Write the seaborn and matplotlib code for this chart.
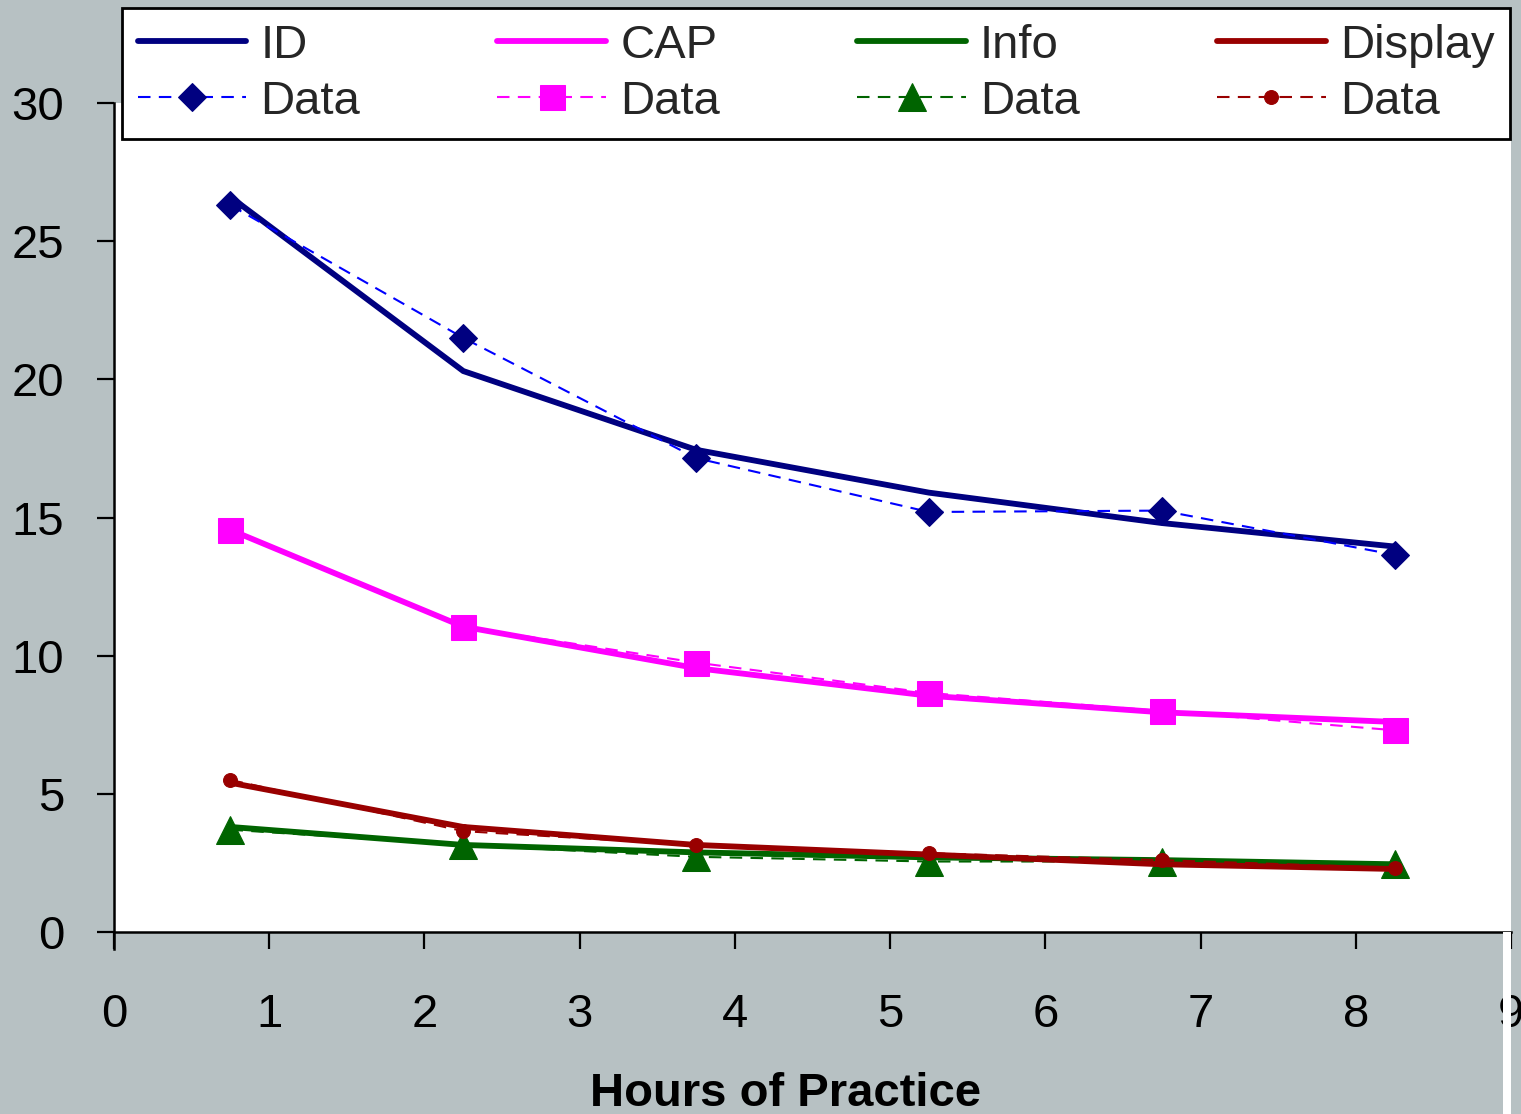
import matplotlib
matplotlib.use("Agg")
import matplotlib.pyplot as plt
from matplotlib.patches import Rectangle
import seaborn as sns
import pandas as pd

# Practice sessions (hours) at which performance was measured
hours = [0.75, 2.25, 3.75, 5.25, 6.75, 8.25]

# Measured data per component
id_data = [26.3, 21.5, 17.15, 15.2, 15.25, 13.65]
cap_data = [14.55, 11.05, 9.75, 8.65, 8.0, 7.3]
info_data = [3.7, 3.15, 2.72, 2.55, 2.55, 2.45]
display_data = [5.5, 3.65, 3.15, 2.85, 2.6, 2.32]

# Model fits per component
id_fit = [26.6, 20.3, 17.45, 15.9, 14.8, 13.95]
cap_fit = [14.55, 11.05, 9.55, 8.55, 7.95, 7.6]
info_fit = [3.8, 3.15, 2.88, 2.7, 2.6, 2.45]
display_fit = [5.4, 3.8, 3.15, 2.8, 2.45, 2.28]

series_names = ["ID", "CAP", "Info", "Display"]
fit_colors = ["#000080", "#FF00FF", "#006400", "#990000"]
data_colors = ["#0000FF", "#FF00FF", "#006400", "#990000"]
markers = ["D", "s", "^", "o"]
marker_sizes = [14, 18, 20, 10]

fits = [id_fit, cap_fit, info_fit, display_fit]
datas = [id_data, cap_data, info_data, display_data]

bg = "#B7C1C3"
sns.set_style("ticks")
plt.rcParams["font.family"] = ["Liberation Sans", "DejaVu Sans"]

fig = plt.figure(figsize=(15.21, 11.14), dpi=100, facecolor=bg)
ax = fig.add_axes([0.075, 0.1634, 0.9184, 0.7441])
ax.set_facecolor("white")

handles = []
labels = []
for name, fit, data, fc, dc, mk, ms in zip(series_names, fits, datas,
                                           fit_colors, data_colors,
                                           markers, marker_sizes):
    df = pd.DataFrame({"hours": hours, "fit": fit, "data": data})
    sns.lineplot(data=df, x="hours", y="fit", ax=ax, color=fc,
                 linewidth=4.2, solid_joinstyle="miter", label=name,
                 legend=False)
    fit_line = ax.get_lines()[-1]
    sns.lineplot(data=df, x="hours", y="data", ax=ax, color=dc,
                 linewidth=1.5, dashes=False, linestyle=(0, (6, 4)),
                 marker=mk, markersize=ms, markerfacecolor=fc,
                 markeredgecolor=fc, label="Data", legend=False)
    data_line = ax.get_lines()[-1]
    handles += [fit_line, data_line]
    labels += [name, "Data"]

ax.set_xlim(0, 9)
ax.set_ylim(0, 30)
ax.set_xticks(range(0, 10))
ax.set_yticks(range(0, 31, 5))
ax.tick_params(axis="both", direction="out", length=12, width=1.6,
               color="black", labelsize=34, labelcolor="black")
ax.tick_params(axis="x", pad=32)
ax.tick_params(axis="y", pad=24)
for side in ["top", "right"]:
    ax.spines[side].set_visible(False)
for side in ["left", "bottom"]:
    ax.spines[side].set_color("black")
    ax.spines[side].set_linewidth(1.8)
ax.spines["left"].set_bounds(-0.6, 30)
ax.spines["left"].set_position(("data", 0))

ax.set_xlabel("Hours of Practice", fontsize=34, fontweight="bold",
              color="black")
ax.set_ylabel("")
ax.xaxis.set_label_coords(0.481, -0.169)
ax.xaxis.label.set_va("top")

leg = ax.legend(handles, labels, ncol=4, loc="upper left",
                bbox_to_anchor=(0.0802, 0.0, 0.9126, 1 - 8 / 1114),
                bbox_transform=fig.transFigure, mode="expand",
                fontsize=34, frameon=True, fancybox=False, framealpha=1,
                edgecolor="black", handlelength=2.3, handletextpad=0.3,
                borderaxespad=0, labelspacing=0.26, borderpad=0.33,
                columnspacing=1.0)
leg.get_frame().set_linewidth(2)

fig.patches.append(Rectangle((1503 / 1521, 0), 8 / 1521, 1 - 932 / 1114,
                             transform=fig.transFigure, facecolor="white",
                             edgecolor="none", zorder=0))

fig.savefig("out.png", dpi=100, facecolor=bg)
